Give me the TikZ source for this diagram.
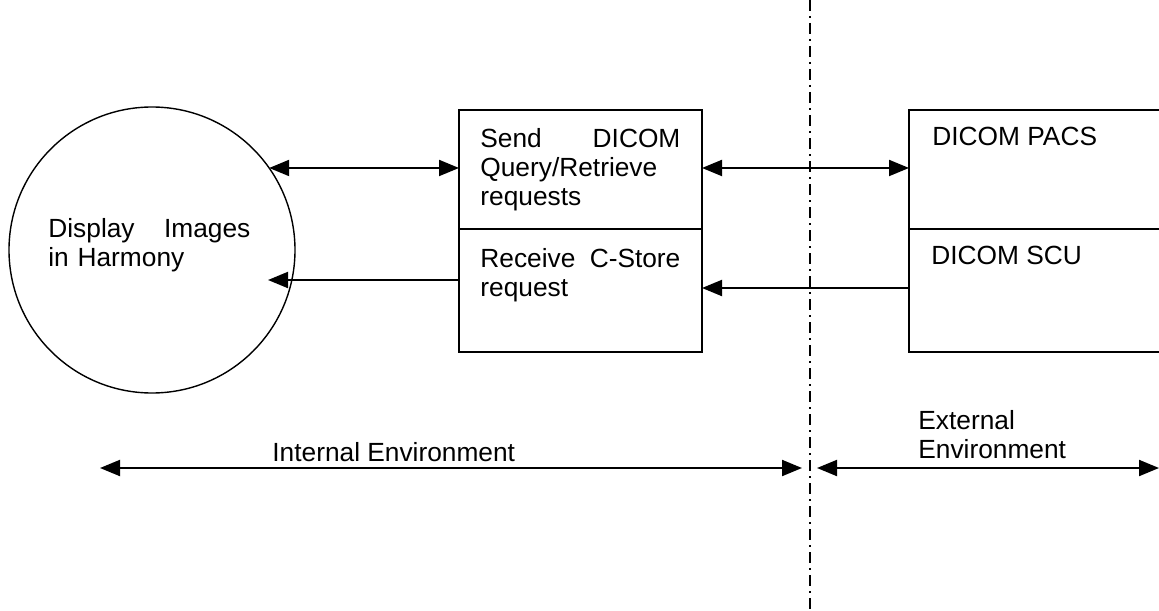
\documentclass[tikz,border=0pt]{standalone}
\usepackage{fontspec}
\setmainfont{Liberation Sans}
\usetikzlibrary{arrows.meta,positioning}

\begin{document}
\begin{tikzpicture}[x=0.5pt,y=-0.5pt,
  box/.style={draw,line width=1pt,inner sep=0pt,outer sep=0pt,anchor=north west},
  txt/.style={inner sep=0pt,anchor=north west,align=left,font=\fontsize{13.15}{14.5}\selectfont},
  arr/.style={line width=1pt,-{Triangle[length=10pt,width=8pt]}},
  darr/.style={line width=1pt,{Triangle[length=10pt,width=8pt]}-{Triangle[length=10pt,width=8pt]}},
  divider/.style={line width=1pt,dash pattern=on 5.5pt off 2.5pt on 1pt off 2.5pt}]
%%Frame
\path[use as bounding box,clip] (0,0) rectangle (1159,610);
%%Circle
\node[draw,circle,line width=0.7pt,minimum size=143pt,inner sep=0pt,outer sep=0pt] (disp) at (152,250) {};
%%Boxes
\node[box,minimum width=121.5pt,minimum height=59.5pt] (send) at (459,110) {};
\node[box,minimum width=121.5pt,minimum height=61.5pt] (recv) at (send.south west) {};
\node[box,minimum width=135.5pt,minimum height=59.5pt] (pacs) at (909,110) {};
\node[box,minimum width=135.5pt,minimum height=61.5pt] (scu) at (pacs.south west) {};
%%Labels
\node[txt,text width=101pt] (disptxt) at (48,218) {Display\hfill Images\\in Harmony};
\node[txt,text width=100pt] (sendtxt) at (480,128) {Send\hfill DICOM\\Query/Retrieve\\requests};
\node[txt,text width=100pt] (recvtxt) at (480,248) {Receive\hfill C-Store\\request};
\node[txt] (pacstxt) at (932,127) {DICOM PACS};
\node[txt] (scutxt) at (931,246) {DICOM SCU};
\node[txt] (intxt) at (272,442) {Internal Environment};
\node[txt] (extxt) at (918,410) {External\\Environment};
%%Boundary
\coordinate (vtop) at (810,0);
\coordinate (vbot) at (810,610);
\draw[divider] (vtop) -- (vbot);
%%Flows
\draw[darr] (disp.35) -- (disp.35 -| send.west);
\draw[darr] (send.east |- disp.35) -- (pacs.west |- disp.35);
\coordinate (rtip) at (268,280);
\draw[arr] (recv.west |- rtip) -- (rtip);
\draw[arr] (scu.west |- 0,288) -- (recv.east |- 0,288);
%%Environments
\coordinate (inl) at (100,468);
\coordinate (inr) at (802,468);
\coordinate (exl) at (817,468);
\coordinate (exr) at (1159,468);
\draw[darr] (inl) -- (inr);
\draw[darr] (exl) -- (exr);
\end{tikzpicture}
\end{document}
